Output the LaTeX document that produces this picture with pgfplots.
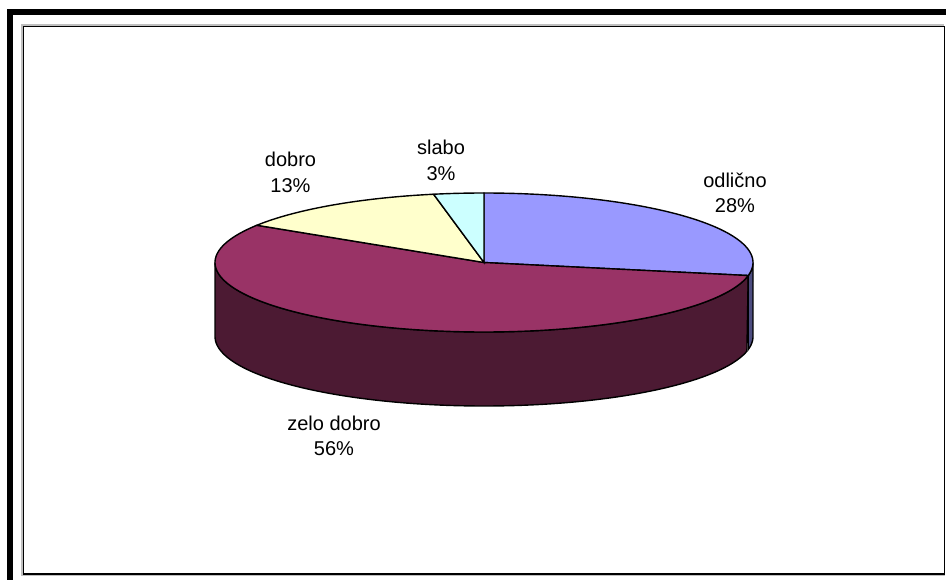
\documentclass[border=0pt]{standalone}
\usepackage{fontspec}
\setmainfont{Liberation Sans}
\usepackage{pgfplots}
\usepackage{pgfplotstable}
\pgfplotsset{compat=1.18}
\definecolor{cOdl}{HTML}{9999FF}
\definecolor{cOdlS}{HTML}{4D4D80}
\definecolor{cZelo}{HTML}{993366}
\definecolor{cZeloS}{HTML}{4C1A33}
\definecolor{cDob}{HTML}{FFFFCC}
\definecolor{cSla}{HTML}{CCFFFF}
\pgfplotstableread{
label value
odlicno 28
zelodobro 56
dobro 13
slabo 3
}\pietable
\pgfplotstablegetelem{0}{value}\of\pietable \let\vA\pgfplotsretval
\pgfplotstablegetelem{1}{value}\of\pietable \let\vB\pgfplotsretval
\pgfplotstablegetelem{2}{value}\of\pietable \let\vC\pgfplotsretval
\pgfplotstablegetelem{3}{value}\of\pietable \let\vD\pgfplotsretval
\pgfmathsetmacro{\Azero}{90}
\pgfmathsetmacro{\Aone}{\Azero-3.6*\vA}
\pgfmathsetmacro{\Atwo}{\Aone-3.6*\vB}
\pgfmathsetmacro{\Athree}{\Atwo-3.6*\vC}
\pgfmathsetmacro{\Afour}{\Athree-3.6*\vD}
\pgfmathsetmacro{\Bside}{\Aone+360}
\def\cx{484}\def\cy{262.5}\def\rx{269}\def\ry{69.5}\def\dd{74}
\begin{document}
\begin{tikzpicture}
\begin{axis}[width=946pt,height=580pt,scale only axis,
  xmin=0,xmax=946,ymin=0,ymax=580,y dir=reverse,
  hide axis,clip=false]
% frames
\draw[line width=6pt] (axis cs:10,580) -- (axis cs:10,12) -- (axis cs:946,12);
\draw[gray!50, line width=1.2pt] (axis cs:22,575.5) -- (axis cs:22,25) -- (axis cs:944,25);
\draw[gray!50, line width=1.2pt] (axis cs:22,575.5) -- (axis cs:945,575.5);
\draw[black, line width=1.1pt] (axis cs:23.5,26.5) rectangle (axis cs:944.5,574);
% side walls
\addplot[fill=cZeloS, draw=black, line width=1.4pt, domain=0:2, samples=241, variable=\t]
 ({\cx+\rx*cos(\t<=1 ? 180+\t*(\Bside-180) : \Bside-(\t-1)*(\Bside-180))},
  {\cy-\ry*sin(\t<=1 ? 180+\t*(\Bside-180) : \Bside-(\t-1)*(\Bside-180)) + (\t>1 ? \dd : 0)}) -- cycle;
\addplot[fill=cOdlS, draw=black, line width=1.4pt, domain=0:2, samples=41, variable=\t]
 ({\cx+\rx*cos(\t<=1 ? \Bside+\t*(360-\Bside) : 360-(\t-1)*(360-\Bside))},
  {\cy-\ry*sin(\t<=1 ? \Bside+\t*(360-\Bside) : 360-(\t-1)*(360-\Bside)) + (\t>1 ? \dd : 0)}) -- cycle;
% top sectors
\addplot[fill=cOdl, draw=black, line width=1.4pt, domain=\Aone:\Azero, samples=80, variable=\t]
 ({\cx+\rx*cos(\t)},{\cy-\ry*sin(\t)}) -- (axis cs:\cx,\cy) -- cycle;
\addplot[fill=cZelo, draw=black, line width=1.4pt, domain=\Atwo:\Aone, samples=160, variable=\t]
 ({\cx+\rx*cos(\t)},{\cy-\ry*sin(\t)}) -- (axis cs:\cx,\cy) -- cycle;
\addplot[fill=cDob, draw=black, line width=1.4pt, domain=\Athree:\Atwo, samples=40, variable=\t]
 ({\cx+\rx*cos(\t)},{\cy-\ry*sin(\t)}) -- (axis cs:\cx,\cy) -- cycle;
\addplot[fill=cSla, draw=black, line width=1.4pt, domain=\Afour:\Athree, samples=20, variable=\t]
 ({\cx+\rx*cos(\t)},{\cy-\ry*sin(\t)}) -- (axis cs:\cx,\cy) -- cycle;
% labels
\tikzset{lab/.style={align=center, font=\fontsize{20}{25.5}\selectfont, inner sep=0pt}}
\node[lab] at (axis cs:735,193) {odlično\\28\%};
\node[lab] at (axis cs:441,160.5) {slabo\\3\%};
\node[lab] at (axis cs:290.5,172.5) {dobro\\13\%};
\node[lab] at (axis cs:334,436) {zelo dobro\\56\%};
\end{axis}
\pgfresetboundingbox
\path[use as bounding box] (current axis.south west) rectangle (current axis.north east);
\end{tikzpicture}
\end{document}
